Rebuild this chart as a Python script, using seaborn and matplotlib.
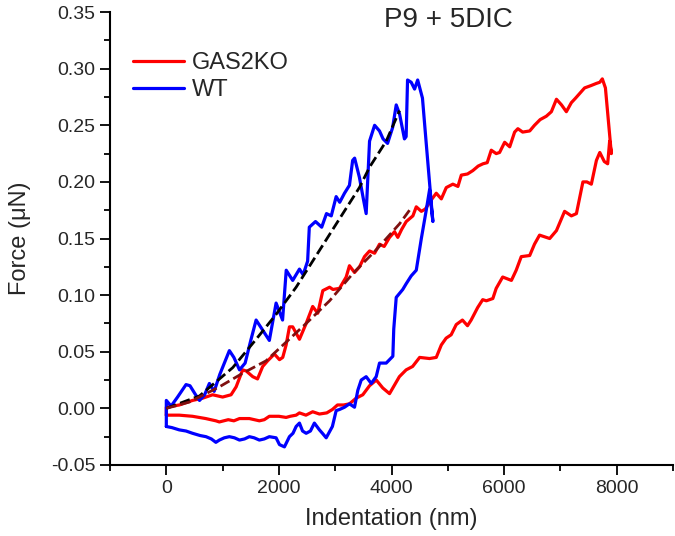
import pandas as pd
import seaborn as sns
import matplotlib.pyplot as plt
from matplotlib.ticker import MultipleLocator, FormatStrFormatter

# GAS2KO: loading + unloading, indentation (nm) / force (uN)
ko_x = [0, 0, 230, 465, 645, 823, 1000, 1150, 1240, 1356, 1420, 1535, 1620, 1712, 1800,
        1920, 2010, 2068, 2128, 2187, 2245, 2365, 2484, 2600, 2690, 2780, 2900, 2960,
        3076, 3195, 3253, 3343, 3432, 3520, 3610, 3700, 3787, 3870, 3965, 4054, 4112,
        4180, 4262, 4380, 4440, 4530, 4600, 4705, 4795, 4885, 4973, 5090, 5180, 5240,
        5350, 5445, 5540, 5625, 5700, 5772, 5860, 5920, 6010, 6100, 6187, 6245, 6330,
        6455, 6540, 6640, 6750, 6840, 6930, 7020, 7106, 7195, 7270, 7342, 7430, 7540,
        7640, 7700, 7745,
        7800, 7860, 7905, 7875, 7840, 7780, 7700, 7640, 7550, 7470, 7400, 7285, 7195,
        7075, 6990, 6930, 6810, 6630, 6540, 6455, 6305, 6215, 6130, 5975, 5860, 5800,
        5685, 5620, 5530, 5415, 5350, 5260, 5150, 5060, 4970, 4885, 4795, 4676, 4500,
        4375, 4260, 4140, 3965, 3845, 3730, 3610, 3490, 3372, 3253, 3150, 3040, 2950,
        2850, 2720, 2600, 2480, 2365, 2306, 2200, 2128, 2000, 1830, 1740, 1653, 1560,
        1475, 1300, 1200, 1100, 942, 880, 700, 465, 230, 0]
ko_y = [-0.006, 0.001, 0.003, 0.007, 0.009, 0.012, 0.010, 0.012, 0.019, 0.034, 0.033,
        0.028, 0.026, 0.037, 0.042, 0.048, 0.043, 0.045, 0.056, 0.072, 0.072, 0.061,
        0.075, 0.090, 0.084, 0.104, 0.107, 0.105, 0.106, 0.116, 0.126, 0.120, 0.125,
        0.134, 0.139, 0.137, 0.145, 0.143, 0.151, 0.156, 0.151, 0.158, 0.165, 0.170,
        0.178, 0.174, 0.176, 0.184, 0.190, 0.185, 0.195, 0.198, 0.196, 0.206, 0.207,
        0.210, 0.214, 0.216, 0.217, 0.228, 0.225, 0.226, 0.235, 0.231, 0.244, 0.247,
        0.244, 0.245, 0.250, 0.255, 0.258, 0.262, 0.273, 0.268, 0.262, 0.270, 0.274,
        0.278, 0.283, 0.285, 0.287, 0.288, 0.291,
        0.283, 0.250, 0.225, 0.236, 0.216, 0.218, 0.226, 0.219, 0.198, 0.200, 0.200,
        0.172, 0.170, 0.174, 0.164, 0.157, 0.150, 0.153, 0.145, 0.135, 0.134, 0.122,
        0.113, 0.116, 0.106, 0.097, 0.095, 0.096, 0.089, 0.078, 0.073, 0.078, 0.074,
        0.065, 0.062, 0.056, 0.045, 0.044, 0.045, 0.037, 0.034, 0.028, 0.013, 0.018,
        0.025, 0.020, 0.012, 0.009, 0.004, 0.003, 0.003, -0.001, -0.004, -0.005,
        -0.003, -0.006, -0.004, -0.006, -0.007, -0.008, -0.007, -0.007, -0.010,
        -0.011, -0.010, -0.009, -0.009, -0.011, -0.010, -0.012, -0.011, -0.009,
        -0.007, -0.006, -0.006]

# WT
wt_x = [0, 0, 85, 200, 350, 420, 520, 590, 680, 765, 850, 950, 1120, 1200, 1300, 1400,
        1500, 1595, 1700, 1830, 1950, 2065, 2130, 2245, 2365, 2430, 2510, 2540, 2650,
        2760, 2845, 2930, 3017, 3080, 3165, 3253, 3310, 3345, 3430, 3500, 3550, 3610,
        3700, 3787, 3850, 3930, 4020, 4084, 4143, 4230, 4260, 4285, 4350, 4410, 4465,
        4550, 4617, 4700, 4735, 4676,
        4617, 4530, 4440, 4350, 4260, 4200, 4084, 4040, 4024, 3906, 3787, 3728, 3640,
        3550, 3462, 3402, 3343, 3253, 3165, 3076, 3017, 2950, 2840, 2773, 2720, 2630,
        2560, 2484, 2420, 2365, 2306, 2250, 2187, 2098, 2010, 1950, 1830, 1740, 1653,
        1560, 1475, 1390, 1300, 1210, 1120, 1030, 942, 880, 800, 705, 600, 465, 350,
        230, 100, 0]
wt_y = [-0.016, 0.007, 0.002, 0.010, 0.021, 0.020, 0.012, 0.007, 0.012, 0.022, 0.015,
        0.030, 0.051, 0.045, 0.034, 0.040, 0.060, 0.078, 0.070, 0.060, 0.093, 0.078,
        0.122, 0.113, 0.123, 0.118, 0.130, 0.160, 0.165, 0.160, 0.172, 0.170, 0.187,
        0.182, 0.190, 0.197, 0.219, 0.221, 0.204, 0.185, 0.172, 0.236, 0.250, 0.245,
        0.238, 0.234, 0.248, 0.268, 0.260, 0.238, 0.240, 0.290, 0.288, 0.282, 0.290,
        0.274, 0.234, 0.185, 0.165, 0.193,
        0.175, 0.150, 0.122, 0.117, 0.110, 0.105, 0.098, 0.070, 0.046, 0.040, 0.040,
        0.028, 0.022, 0.028, 0.025, 0.016, 0.001, 0.004, 0.001, -0.001, -0.002,
        -0.016, -0.026, -0.022, -0.019, -0.013, -0.020, -0.022, -0.020, -0.013,
        -0.016, -0.022, -0.025, -0.034, -0.032, -0.026, -0.025, -0.027, -0.028,
        -0.026, -0.025, -0.027, -0.028, -0.026, -0.025, -0.026, -0.028, -0.030,
        -0.027, -0.025, -0.024, -0.022, -0.020, -0.019, -0.017, -0.016]

# fit curves (dashed)
wt_fit_x = [0, 590, 1180, 1595, 1950, 2306, 3135, 3430, 3610, 3906, 4143]
wt_fit_y = [0, 0.011, 0.036, 0.061, 0.083, 0.107, 0.172, 0.195, 0.213, 0.236, 0.263]
ko_fit_x = [0, 410, 942, 1356, 1772, 2484, 2900, 3312, 3728, 4143, 4320]
ko_fit_y = [0, 0.0056, 0.019, 0.031, 0.042, 0.075, 0.095, 0.119, 0.140, 0.163, 0.175]

sns.set_style('ticks')
plt.rcParams['font.family'] = ['Liberation Sans', 'DejaVu Sans']
plt.rcParams['axes.unicode_minus'] = False

df = pd.concat([
    pd.DataFrame({'indentation': ko_x, 'force': ko_y, 'sample': 'GAS2KO'}),
    pd.DataFrame({'indentation': wt_x, 'force': wt_y, 'sample': 'WT'}),
], ignore_index=True)

fig = plt.figure(figsize=(6.75, 5.36), dpi=100)
ax = fig.add_axes([0.163, 0.1325, 0.834, 0.845])

sns.lineplot(data=df, x='indentation', y='force', hue='sample',
             hue_order=['GAS2KO', 'WT'],
             palette={'GAS2KO': '#ff0000', 'WT': '#0000ff'},
             sort=False, estimator=None, linewidth=2.3, ax=ax)
sns.lineplot(x=wt_fit_x, y=wt_fit_y, color='black', linestyle='--',
             linewidth=2, ax=ax)
sns.lineplot(x=ko_fit_x, y=ko_fit_y, color='#7f1010', linestyle='--',
             linewidth=2, ax=ax)

ax.set_xlim(-1000, 9000)
ax.set_ylim(-0.05, 0.35)
ax.xaxis.set_major_locator(MultipleLocator(2000))
ax.xaxis.set_minor_locator(MultipleLocator(1000))
ax.yaxis.set_major_locator(MultipleLocator(0.05))
ax.yaxis.set_minor_locator(MultipleLocator(0.025))
ax.yaxis.set_major_formatter(FormatStrFormatter('%.2f'))
ax.tick_params(which='major', direction='out', length=7, width=1.3,
               labelsize=14, color='black')
ax.tick_params(which='minor', direction='out', length=4.5, width=1.3,
               color='black')
sns.despine(ax=ax)
for s in ['left', 'bottom']:
    ax.spines[s].set_linewidth(1.5)
    ax.spines[s].set_color('black')

ax.set_xlabel('Indentation (nm)', fontsize=17, labelpad=8)
ax.set_ylabel('Force (μN)', fontsize=17, labelpad=14)

ax.text(0.601, 0.982, 'P9 + 5DIC', transform=ax.transAxes,
        ha='center', va='center', fontsize=20)

handles, labels = ax.get_legend_handles_labels()
ax.legend(handles[:2], labels[:2], loc='upper left', bbox_to_anchor=(0.04, 0.912),
          frameon=False, fontsize=17, handlelength=2.2, handletextpad=0.3,
          labelspacing=0.22, borderaxespad=0, borderpad=0)

fig.savefig('out.png', dpi=100)
plt.close()
